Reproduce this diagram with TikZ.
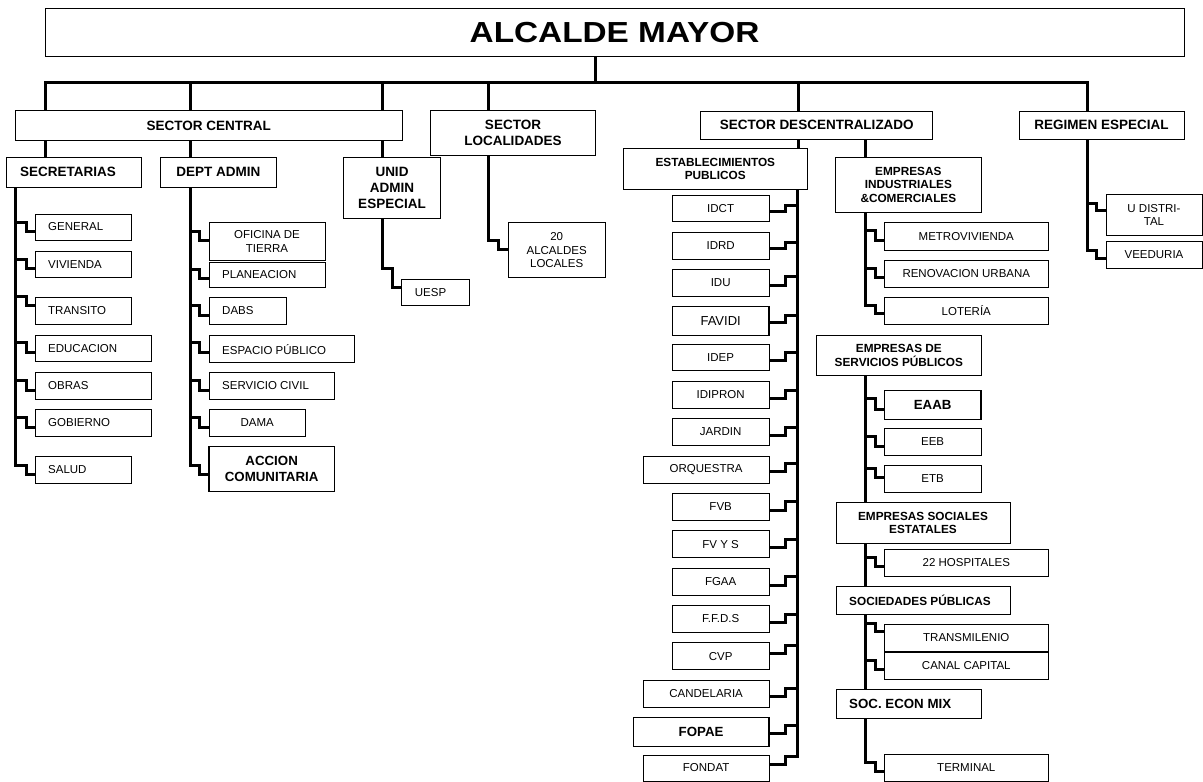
\documentclass[tikz,border=0pt]{standalone}
\usepackage{fontspec}
\setmainfont{Liberation Sans}
\newfontfamily\titlefont[FakeStretch=1.15]{Liberation Sans}
\tikzset{
  box/.style={draw=black, fill=white, line width=1pt, inner sep=0pt, outer sep=0pt, align=center},
  boldbox/.style={line width=1.5pt},
  reg/.style={font=\fontsize{11.5}{13.3}\selectfont},
  regbig/.style={font=\fontsize{13}{15}\selectfont},
  hdr/.style={font=\bfseries\fontsize{13.5}{15.8}\selectfont},
  sub/.style={font=\bfseries\fontsize{11.8}{13.3}\selectfont},
  big/.style={font=\bfseries\fontsize{13.3}{15.7}\selectfont},
  conn/.style={line width=3pt, line join=miter, draw=black}
}
\newcommand\obox[7][]{\node[box,#1,minimum width={#5-#3},minimum height={#6-#4}] (#2) at ({(#3+#5)/2},{(#4+#6)/2}) {#7};}
\newcommand\lbox[8][]{\node[box,minimum width={#5-#3},minimum height={#6-#4}] (#2) at ({(#3+#5)/2},{(#4+#6)/2}) {};
  \node[#1,anchor=west,inner sep=0pt] (#2t) at ({#3+#7},{(#4+#6)/2}) {#8};}
\newcommand\stepR[5]{\draw[conn] (#1,#2) -| (#3,#4) -- (#5.west |- 0,#4);}
\newcommand\stepL[5]{\draw[conn] (#1,#2) -| (#3,#4) -- (#5.east |- 0,#4);}
\begin{document}
\begin{tikzpicture}[x=1pt,y=-1pt]
\fill[white] (0,0) rectangle (1203,782);
\useasboundingbox (0,0) rectangle (1203,782);

% ---------- top level ----------
\obox[font=\titlefont\bfseries\fontsize{29}{32}\selectfont]{alc}{45}{8.5}{1184}{56.7}{ALCALDE MAYOR}
\obox[hdr]{sc}{15.5}{110.7}{402}{140}{SECTOR CENTRAL}
\obox[hdr]{sl}{430.7}{110.7}{595.3}{155.7}{SECTOR\\LOCALIDADES}
\obox[hdr]{sd}{700.8}{111}{932.7}{139.3}{SECTOR DESCENTRALIZADO}
\obox[hdr]{re}{1019}{111}{1184}{139.3}{REGIMEN ESPECIAL}

% ---------- second level ----------
\lbox[hdr]{secr}{6}{157.3}{141.7}{187.3}{14}{SECRETARIAS}
\obox[hdr]{dept}{160.7}{157.3}{276}{187.3}{DEPT ADMIN}
\obox[hdr]{unid}{343.7}{157.3}{440.3}{218.3}{UNID\\ADMIN\\ESPECIAL}
\obox[sub]{estab}{623.3}{148.3}{807.3}{189}{ESTABLECIMIENTOS\\PUBLICOS}
\obox[sub]{empind}{835.7}{157.3}{981}{212.3}{EMPRESAS\\INDUSTRIALES\\\&COMERCIALES}

% ---------- secretarias ----------
\lbox[reg]{gen}{35}{214}{131.7}{240}{13}{GENERAL}
\lbox[reg]{viv}{35}{251}{131.7}{277.3}{13}{VIVIENDA}
\lbox[reg]{tra}{35}{297.3}{131.7}{324.3}{13}{TRANSITO}
\lbox[reg]{edu}{35}{335}{151}{361.7}{13}{EDUCACION}
\lbox[reg]{obr}{35}{372}{151}{399}{13}{OBRAS}
\lbox[reg]{gob}{35}{409}{151}{436.7}{13}{GOBIERNO}
\lbox[reg]{sal}{35}{456}{131.7}{483.3}{13}{SALUD}

% ---------- dept admin ----------
\obox[reg]{ofi}{209}{222.7}{325}{260}{OFICINA DE\\TIERRA}
\lbox[reg]{pla}{209}{262.7}{325}{287.3}{13}{PLANEACION}
\lbox[reg]{dabs}{209}{297.3}{286}{324.3}{13}{DABS}
\lbox[reg]{espp}{209}{335.7}{354}{362.7}{13}{ESPACIO PÚBLICO}
\lbox[reg]{ser}{209}{372}{334.3}{399}{13}{SERVICIO CIVIL}
\obox[reg]{dama}{209}{409.7}{305.3}{436.3}{DAMA}
\obox[big,boldbox]{acc}{209}{446.7}{334.3}{491.7}{ACCION\\COMUNITARIA}

% ---------- unid admin / localidades ----------
\lbox[reg]{uesp}{401.7}{279}{469.3}{305.7}{13}{UESP}
\obox[reg]{alc20}{508.3}{222.7}{605}{277.7}{20\\ALCALDES\\LOCALES}

% ---------- establecimientos publicos ----------
\obox[reg]{idct}{672.3}{195}{769}{221.7}{IDCT}
\obox[reg]{idrd}{672.3}{232.3}{769}{259}{IDRD}
\obox[reg]{idu}{672.3}{269.3}{769}{296}{IDU}
\obox[regbig,boldbox]{favidi}{672.3}{306.7}{769}{335.7}{FAVIDI}
\obox[reg]{idep}{672.3}{344}{769}{370.7}{IDEP}
\obox[reg]{idipron}{672.3}{381.3}{769}{408.3}{IDIPRON}
\obox[reg]{jardin}{672.3}{418.7}{769}{445.3}{JARDIN}
\obox[reg]{orq}{643.3}{456}{769}{483.3}{ORQUESTRA}
\obox[reg]{fvb}{672.3}{493.3}{769}{520}{FVB}
\obox[reg]{fvys}{672.3}{530.7}{769}{557.7}{FV Y S}
\obox[reg]{fgaa}{672.3}{568}{769}{595}{FGAA}
\obox[reg]{ffds}{672.3}{605.3}{769}{632.3}{F.F.D.S}
\obox[reg]{cvp}{672.3}{642.7}{769}{669.7}{CVP}
\obox[reg]{cand}{643.3}{680}{769}{707}{CANDELARIA}
\obox[big,boldbox]{fopae}{633.3}{717.3}{769}{746.7}{FOPAE}
\obox[reg]{fondat}{643.3}{755}{769}{781}{FONDAT}

% ---------- empresas industriales ----------
\obox[reg]{metro}{884.3}{222.7}{1048.3}{250}{METROVIVIENDA}
\obox[reg]{renov}{884.3}{260.7}{1048.3}{287.3}{RENOVACION URBANA}
\obox[reg]{lot}{884.3}{297.3}{1048.3}{324.3}{LOTERÍA}

% ---------- servicios publicos etc ----------
\obox[sub]{eserv}{816.7}{335}{981}{375.7}{EMPRESAS DE\\SERVICIOS PÚBLICOS}
\obox[big,boldbox]{eaab}{884.3}{390.7}{981}{419.3}{EAAB}
\obox[reg]{eeb}{884.3}{428.3}{981}{455}{EEB}
\obox[reg]{etb}{884.3}{465}{981}{492.7}{ETB}
\obox[sub]{ese}{836}{502.3}{1010}{543.3}{EMPRESAS SOCIALES\\ESTATALES}
\obox[reg]{hosp}{884.3}{549.3}{1048.3}{576}{22 HOSPITALES}
\lbox[sub]{sp}{836}{586.7}{1010}{614}{13}{SOCIEDADES PÚBLICAS}
\obox[reg]{trans}{884.3}{624}{1048.3}{651}{TRANSMILENIO}
\obox[reg]{canal}{884.3}{652}{1048.3}{679}{CANAL CAPITAL}
\lbox[big]{sem}{836}{689.3}{981}{718.3}{13}{SOC. ECON MIX}
\obox[reg]{term}{884.3}{754.3}{1048.3}{781}{TERMINAL}

% ---------- regimen especial ----------
\obox[reg]{udis}{1106}{194.3}{1202}{235.7}{U DISTRI-\\TAL}
\obox[reg]{veed}{1106}{241.7}{1202}{268.3}{VEEDURIA}

% ================= connectors =================
\draw[conn] (alc.south -| 595,0) -- (595,82);
\draw[conn] (sc.north -| 45,0) -- (45,82) -- (1087.7,82) -- (re.north -| 1087.7,0);
\draw[conn] (190,82) -- (sc.north -| 190,0);
\draw[conn] (382.7,82) -- (sc.north -| 382.7,0);
\draw[conn] (488.7,82) -- (sl.north -| 488.7,0);
\draw[conn] (798,82) -- (sd.north -| 798,0);

\draw[conn] (sc.south -| 45,0) -- (secr.north -| 45,0);
\draw[conn] (sc.south -| 190,0) -- (dept.north -| 190,0);
\draw[conn] (sc.south -| 382.7,0) -- (unid.north -| 382.7,0);

% secretarias
\stepR{15}{222}{26}{231}{gen}
\stepR{15}{259.3}{26}{268}{viv}
\stepR{15}{296.7}{26}{305.7}{tra}
\stepR{15}{342.7}{26}{352.7}{edu}
\stepR{15}{380}{26}{390}{obr}
\stepR{15}{417.7}{26}{427.3}{gob}
\draw[conn] (secr.south -| 15,0) -- (15,465) -| (26,474) -- (sal.west |- 0,474);

% dept admin
\stepR{190}{231}{199.3}{240}{ofi}
\stepR{190}{269}{199.3}{278.3}{pla}
\stepR{190}{305.3}{199.3}{315}{dabs}
\stepR{190}{342.7}{199.3}{352.7}{espp}
\stepR{190}{380}{199.3}{390}{ser}
\stepR{190}{417.7}{199.3}{427.3}{dama}
\draw[conn] (dept.south -| 190,0) -- (190,465) -| (199.3,474) -- (acc.west |- 0,474);

% unid admin / localidades
\draw[conn] (unid.south -| 382.7,0) -- (382.7,268.3) -| (392.3,287.7) -- (uesp.west |- 0,287.7);
\draw[conn] (sl.south -| 488.7,0) -- (488.7,240.7) -| (498.3,249.3) -- (alc20.west |- 0,249.3);

% sector descentralizado
\draw[conn] (sd.south -| 798,0) -- (estab.north -| 798,0);
\draw[conn] (sd.south -| 865,0) -- (empind.north -| 865,0);

% establecimientos
\stepL{797.7}{205.3}{785}{211}{idct}
\stepL{797.7}{242.7}{785}{248.3}{idrd}
\stepL{797.7}{276.7}{785}{285}{idu}
\stepL{797.7}{315}{785}{322.7}{favidi}
\stepL{797.7}{352.3}{785}{360.7}{idep}
\stepL{797.7}{390.7}{785}{398.3}{idipron}
\stepL{797.7}{427.3}{785}{435}{jardin}
\stepL{797.7}{463.3}{785}{471.7}{orq}
\stepL{797.7}{501.7}{785}{510}{fvb}
\stepL{797.7}{539.3}{785}{547.3}{fvys}
\stepL{797.7}{576.7}{785}{585}{fgaa}
\stepL{797.7}{614}{785}{622.3}{ffds}
\stepL{797.7}{645}{785}{653}{cvp}
\stepL{797.7}{688.3}{785}{696.7}{cand}
\stepL{797.7}{725}{785}{733.3}{fopae}
\draw[conn] (estab.south -| 797.7,0) -- (797.7,756) -| (785,764) -- (fondat.east |- 0,764);

% empresas industriales
\stepR{865}{230.7}{875}{240}{metro}
\stepR{865}{268.3}{875}{277.3}{renov}
\draw[conn] (empind.south -| 865,0) -- (865,305) -| (875,313.3) -- (lot.west |- 0,313.3);

% servicios publicos chain
\draw[conn] (eserv.south -| 865,0) -- (ese.north -| 865,0);
\stepR{865}{398.3}{875}{409.3}{eaab}
\stepR{865}{436}{875}{446}{eeb}
\stepR{865}{468}{875}{477}{etb}
\draw[conn] (ese.south -| 865,0) -- (sp.north -| 865,0);
\stepR{865}{557.3}{875}{566.7}{hosp}
\draw[conn] (sp.south -| 865,0) -- (sem.north -| 865,0);
\stepR{865}{623.3}{875}{631.7}{trans}
\stepR{865}{660}{875}{669.3}{canal}
\draw[conn] (sem.south -| 865,0) -- (865,762.7) -| (875,771) -- (term.west |- 0,771);

% regimen especial
\stepR{1087.7}{203.3}{1096.7}{210.7}{udis}
\draw[conn] (re.south -| 1087.7,0) -- (1087.7,250) -| (1096.7,258.3) -- (veed.west |- 0,258.3);
\end{tikzpicture}
\end{document}
